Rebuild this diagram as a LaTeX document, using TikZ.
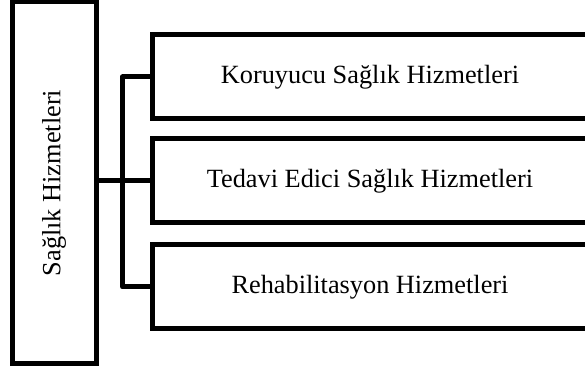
\documentclass[tikz,border=0pt]{standalone}
\usepackage{fontspec}
\setmainfont{Liberation Serif}
\usetikzlibrary{calc, positioning}
\def\px{0.456pt}
\tikzset{
    border/.style = {
        draw, rectangle, line width=5*\px, align=center, font=\fontsize{12}{14}\selectfont
    },
    mainbox/.style = {
        border, rotate=90, minimum width=362*\px, minimum height=84*\px
    },
    subbox/.style = {
        border, minimum width=436*\px, minimum height=84*\px
    },
    link/.style = {
        line width=5*\px, line join=round
    },
}
\begin{document}
\begin{tikzpicture}[x=\px, y=-\px]
        \useasboundingbox (0,0) rectangle (585,374);
        % Place the blocks
        \node[mainbox] (hizmet) at (54,183) {Sağlık Hizmetleri};
        \node[subbox] (koruyucu) at (370,77) {Koruyucu Sağlık Hizmetleri};
        \node[subbox] (tedavi) at (370,181) {Tedavi Edici Sağlık Hizmetleri};
        \node[subbox] (rehab) at (370,287) {Rehabilitasyon Hizmetleri};
        % Draw connections
        \draw[link] (koruyucu.west) -- ++(-27,0) coordinate(bus) |- (rehab.west);
        \draw[link] (hizmet.south |- tedavi.west) -- (tedavi.west);
\end{tikzpicture}
\end{document}
